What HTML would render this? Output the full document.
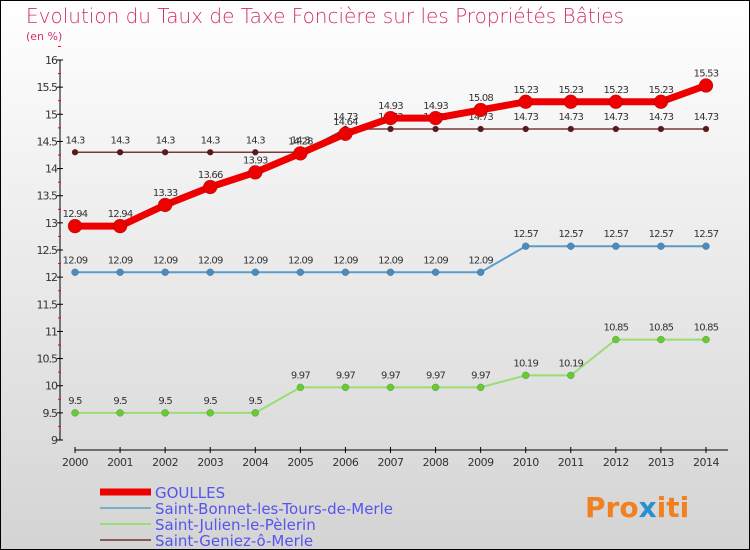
<!DOCTYPE html>
<html><head><meta charset="utf-8"><style>
body{margin:0}
svg{display:block;font-family:"DejaVu Sans","Liberation Sans",sans-serif}
</style></head><body>
<svg width="750" height="550" viewBox="0 0 750 550">
<defs><linearGradient id="bg" x1="0" y1="0" x2="0" y2="1"><stop offset="0" stop-color="#ffffff"/><stop offset="1" stop-color="#d4d4d4"/></linearGradient></defs>
<rect x="0.5" y="0.5" width="749" height="549" fill="url(#bg)" stroke="#000"/>
<text x="26" y="23" font-size="20" fill="#d0306a" style="font-weight:200">Evolution du Taux de Taxe Foncière sur les Propriétés Bâties</text>
<text x="26" y="40" font-size="11" fill="#d0306a">(en %)</text>
<g id="axes"></g>
<g id="series"></g>
<g id="legend"></g>
<text x="585" y="517" font-size="28" font-weight="bold" fill="#f08020">Pro<tspan fill="#2a90d0">x</tspan>iti</text>
</svg>
<script>
const years=[2000,2001,2002,2003,2004,2005,2006,2007,2008,2009,2010,2011,2012,2013,2014];
const goulles=[12.94,12.94,13.33,13.66,13.93,14.28,14.64,14.93,14.93,15.08,15.23,15.23,15.23,15.23,15.53];
const bonnet=[12.09,12.09,12.09,12.09,12.09,12.09,12.09,12.09,12.09,12.09,12.57,12.57,12.57,12.57,12.57];
const julien=[9.5,9.5,9.5,9.5,9.5,9.97,9.97,9.97,9.97,9.97,10.19,10.19,10.85,10.85,10.85];
const geniez=[14.3,14.3,14.3,14.3,14.3,14.3,14.73,14.73,14.73,14.73,14.73,14.73,14.73,14.73,14.73];
const yTicks=[9,9.5,10,10.5,11,11.5,12,12.5,13,13.5,14,14.5,15,15.5,16];
const names=["GOULLES","Saint-Bonnet-les-Tours-de-Merle","Saint-Julien-le-Pèlerin","Saint-Geniez-ô-Merle"];
const NS="http://www.w3.org/2000/svg";
const X=i=>75+i*(706-75)/(years.length-1);
const Y=v=>440-(v-9)*(380/7);
function mk(t,a,p){const e=document.createElementNS(NS,t);for(const k in a)e.setAttribute(k,a[k]);p.appendChild(e);return e;}
const ax=document.getElementById('axes');
let l=mk('line',{x1:60,y1:60,x2:60,y2:440,stroke:'#000'},ax);

yTicks.forEach(v=>{mk('line',{x1:57,x2:63,y1:Y(v),y2:Y(v),stroke:'#000'},ax);
 mk('line',{x1:58,x2:61,y1:Y(v+0.25),y2:Y(v+0.25),stroke:'#f00'},ax);
 const t=mk('text',{x:57,y:Y(v)+4,'font-size':11,fill:'#333','text-anchor':'end','letter-spacing':'-1'},ax);t.textContent=String(v);
 });
l=mk('line',{x1:75,y1:450,x2:728,y2:450,stroke:'#000'},ax);

years.forEach((y,i)=>{mk('line',{x1:X(i),x2:X(i),y1:447,y2:453,stroke:'#000'},ax);
 const t=mk('text',{x:X(i),y:466,'font-size':11,fill:'#333','text-anchor':'middle','letter-spacing':'-0.5'},ax);t.textContent=y;
 });
const sg=document.getElementById('series');
const cfg=[[geniez,'#7a3a3a','#5a1a1a',1.5,3,'geniez'],[julien,'#99dd77','#66cc33',2,3.5,'julien'],[bonnet,'#5a9ccc','#4a8cc0',2,3.5,'bonnet'],[goulles,'#ee0000','#ee0000',7,7,'goulles']];
cfg.forEach(([d,c,f,w,r,n])=>{
 const p=mk('polyline',{points:d.map((v,i)=>X(i)+','+Y(v)).join(' '),fill:'none',stroke:c,'stroke-width':w},sg);
 
 d.forEach((v,i)=>{const ci=mk('circle',{cx:X(i),cy:Y(v),r:r,fill:f,stroke:'rgba(0,0,0,0.3)','stroke-width':0.5},sg);
  
  const t=mk('text',{x:X(i),y:Y(v)-9,'font-size':10,fill:'#333','text-anchor':'middle','letter-spacing':'-0.8'},sg);t.textContent=String(v);
  });
});
const lg=document.getElementById('legend');
const lc=[['#ee0000',7],['#7aaccc',2],['#99dd77',2],['#8a5a5a',2]];
names.forEach((n,i)=>{const y=492+i*16;
 const s=mk('line',{x1:100,x2:151,y1:y,y2:y,stroke:lc[i][0],'stroke-width':lc[i][1]},lg);
 
 const t=mk('text',{x:155,y:y+6,'font-size':15,fill:'#5555ee'},lg);t.textContent=n;
 });
</script>
</body></html>
